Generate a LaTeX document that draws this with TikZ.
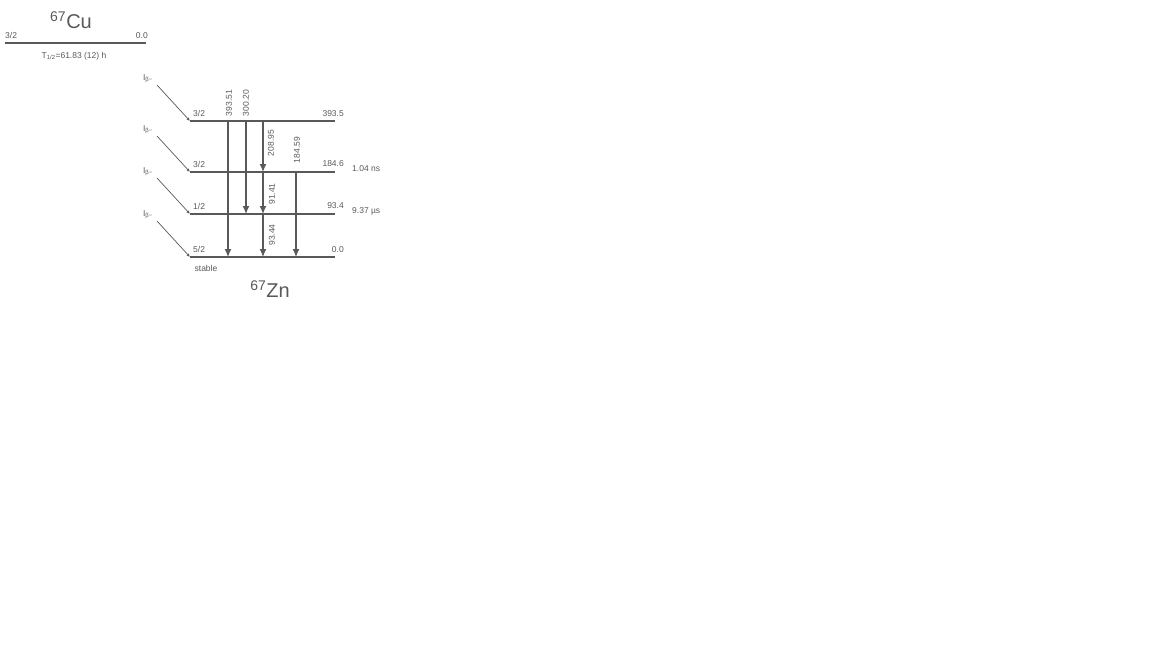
\documentclass[tikz,border=0pt]{standalone}
\usepackage{fontspec}
\setmainfont{Liberation Sans}
\usetikzlibrary{arrows.meta}
\colorlet{ink}{black!65}

\begin{document}
\begin{tikzpicture}[x=1pt,y=-1pt,
    level/.style={draw=ink, line width=1.4pt},
    ground/.style={draw=ink, line width=2.2pt},
    feed/.style={draw=ink, line width=0.7pt, -{Latex[length=3.5pt,width=3pt]}},
    gam/.style={draw=ink, line width=1.2pt, -{Latex[length=8pt,width=7pt]}},
    lbl/.style={font=\fontsize{8.5}{9}\selectfont, text=ink, inner sep=0pt},
    big/.style={font=\fontsize{20}{22}\selectfont, text=ink, inner sep=0pt}]
    \useasboundingbox (0,0) rectangle (1152,648);
    \def\xa{190}
    \def\xb{335}
    % parent level
    \coordinate (cua) at (5,43);
    \coordinate (cub) at (146,43);
    \draw[ground] (cua) -- (cub);
    \node[big] (cu) at (71,20) {\textsuperscript{67}Cu};
    \node[lbl, anchor=south west] (cuspin) at (5,39) {3/2};
    \node[lbl, anchor=south east] (cuen) at (148,39) {0.0};
    \node[lbl] (cuhalf) at (74,56) {T\textsubscript{1/2}=61.83 (12) h};
    % daughter levels
    \foreach \n/\y in {l0/257, l93/214, l184/172, l393/121} {
        \coordinate (\n a) at (\xa,\y);
        \coordinate (\n b) at (\xb,\y);
        \coordinate (\n f) at (157,\y-36);
        \draw[feed] (\n f) -- (\n a);
        \node[lbl, anchor=south east] (\n i) at (153,\y-38) {I\textsubscript{β−}};
    }
    \draw[level] (l393a) -- (l393b);
    \draw[level] (l184a) -- (l184b);
    \draw[level] (l93a) -- (l93b);
    \draw[ground] (l0a) -- (l0b);
    % spins
    \node[lbl, anchor=south west] (s393) at (193,117) {3/2};
    \node[lbl, anchor=south west] (s184) at (193,168) {3/2};
    \node[lbl, anchor=south west] (s93) at (193,210) {1/2};
    \node[lbl, anchor=south west] (s0) at (193,253) {5/2};
    \node[lbl] (stable) at (206,268) {stable};
    % energies
    \node[lbl, anchor=south east] (e393) at (344,117) {393.5};
    \node[lbl, anchor=south east] (e184) at (344,167) {184.6};
    \node[lbl, anchor=south east] (e93) at (344,209) {93.4};
    \node[lbl, anchor=south east] (e0) at (344,253) {0.0};
    \node[lbl, anchor=west] (t184) at (352,169) {1.04 ns};
    \node[lbl, anchor=west] (t93) at (352,211) {9.37 µs};
    \node[big] (zn) at (270,289) {\textsuperscript{67}Zn};
    % gammas
    \coordinate (c1) at (228,0);
    \coordinate (c2) at (246,0);
    \coordinate (c3) at (263,0);
    \coordinate (c4) at (296,0);
    \draw[gam] (c1 |- l393a) -- (c1 |- l0a);
    \draw[gam] (c2 |- l393a) -- (c2 |- l93a);
    \draw[gam] (c3 |- l393a) -- (c3 |- l184a);
    \draw[gam] (c3 |- l184a) -- (c3 |- l93a);
    \draw[gam] (c3 |- l93a) -- (c3 |- l0a);
    \draw[gam] (c4 |- l184a) -- (c4 |- l0a);
    \node[lbl, rotate=90] (g1) at (229,103) {393.51};
    \node[lbl, rotate=90] (g2) at (246,103) {300.20};
    \node[lbl, rotate=90] (g3) at (271,143) {208.95};
    \node[lbl, rotate=90] (g4) at (297,150) {184.59};
    \node[lbl, rotate=90] (g5) at (272,194) {91.41};
    \node[lbl, rotate=90] (g6) at (272,235) {93.44};
\end{tikzpicture}
\end{document}
